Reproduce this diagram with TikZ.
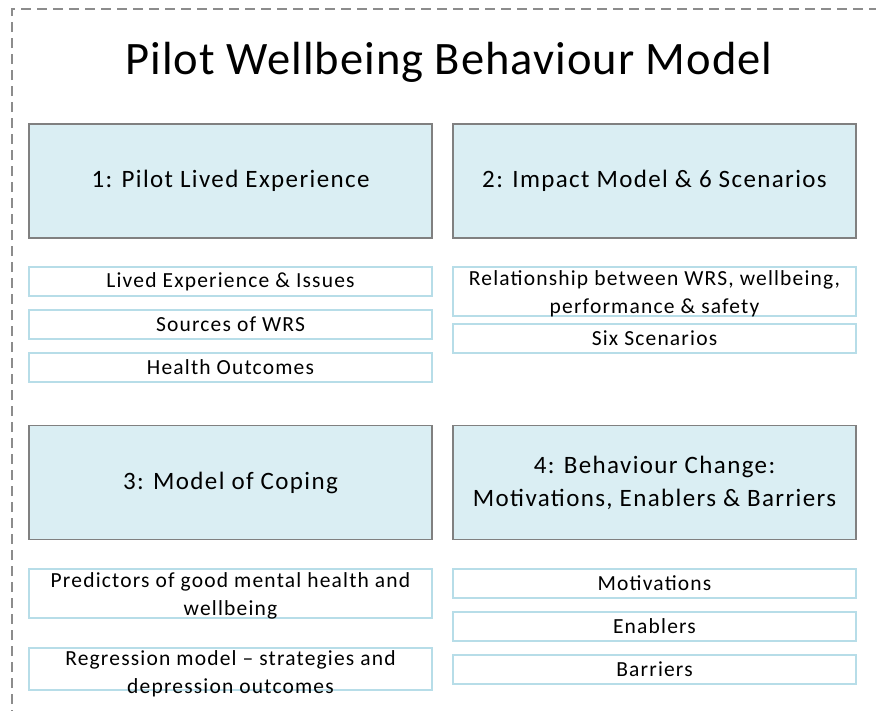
\documentclass[tikz,border=0pt]{standalone}
\usepackage{fontspec}
\setmainfont{Carlito}
\definecolor{boxfill}{HTML}{DAEEF3}
\definecolor{boxline}{HTML}{808080}
\definecolor{itemline}{HTML}{B7DDE8}
\definecolor{frameline}{HTML}{8C8C8C}
\newcommand{\titlefont}{\fontsize{46.5}{54}\selectfont\addfontfeature{LetterSpace=2.2}}
\newcommand{\headfont}{\fontsize{25}{33}\selectfont\addfontfeature{LetterSpace=5.5}}
\newcommand{\itemfont}{\fontsize{21.5}{28}\selectfont\addfontfeature{LetterSpace=5.5}}

\begin{document}
\begin{tikzpicture}[x=1pt, y=-1pt,
  heading/.style={draw=boxline, line width=1.3pt, fill=boxfill, minimum width=403pt, minimum height=114pt, inner sep=0, align=center, font=\headfont},
  item/.style={draw=itemline, line width=1.3pt, fill=white, minimum width=403pt, minimum height=29pt, inner sep=0, align=center, font=\itemfont},
  itemtext/.style={align=center, inner sep=0, yshift=-2.5pt, font=\itemfont}]
\clip (0,0) rectangle (876,710);
\useasboundingbox (0,0) rectangle (876,710);
\draw[frameline, line width=2pt, dash pattern=on 10pt off 6pt] (12,720) -- (12,9) -- (890,9);
\node[font=\titlefont] (title) at (449,62) {Pilot Wellbeing Behaviour Model};
% Headings
\node[heading] (h1) at (230.5,181) {1: Pilot Lived Experience};
\node[heading] (h2) at (654.5,181) {2: Impact Model \& 6 Scenarios};
\node[heading] (h3) at (230.5,482.5) {3: Model of Coping};
\node[heading] (h4) at (654.5,482.5) {4: Behaviour Change:\\Motivations, Enablers \& Barriers};
% Items
\node[item] (i11) at (230.5,281.5) {Lived Experience \& Issues};
\node[item] (i12) at (230.5,324.5) {Sources of WRS};
\node[item] (i13) at (230.5,367.5) {Health Outcomes};
\node[item, minimum height=49pt, label={[itemtext]center:Relationship between WRS, wellbeing,\\performance \& safety}] (i21) at (654.5,291.5) {};
\node[item] (i22) at (654.5,338.5) {Six Scenarios};
\node[item, minimum height=49pt, label={[itemtext]center:Predictors of good mental health and\\wellbeing}] (i31) at (230.5,593.5) {};
\node[item, minimum height=42pt, label={[itemtext, yshift=-2pt]center:Regression model -- strategies and\\depression outcomes}] (i32) at (230.5,669) {};
\node[item] (i41) at (654.5,583.5) {Motivations};
\node[item] (i42) at (654.5,626.5) {Enablers};
\node[item] (i43) at (654.5,669.5) {Barriers};
\end{tikzpicture}
\end{document}
